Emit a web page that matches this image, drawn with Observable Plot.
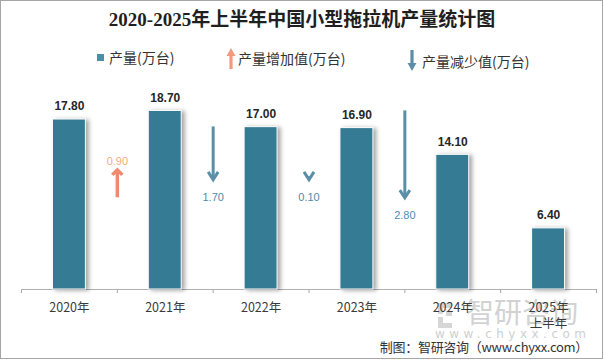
<!DOCTYPE html>
<html><head><meta charset="utf-8">
<script src="https://cdn.jsdelivr.net/npm/d3@7"></script>
<script src="https://cdn.jsdelivr.net/npm/@observablehq/plot@0.6"></script>
<style>
html,body{margin:0;padding:0;background:#fff;}
#wrap{position:relative;width:604px;height:361px;overflow:hidden;font-family:"Noto Sans CJK SC","Noto Sans",sans-serif;background:#fff;}
#frame{position:absolute;left:0;top:0;width:601px;height:357px;border:1px solid #a6a6a6;}
#title{position:absolute;left:0;top:9px;width:604px;text-align:center;font:bold 19px/22px "Liberation Serif","Noto Sans CJK SC",serif;color:#1f1f1f;}
.leg{position:absolute;font-size:14px;line-height:18px;color:#333;white-space:nowrap;}
#wm1{position:absolute;left:466px;top:294px;font-size:28px;line-height:34px;color:#d2d2d2;}
#caption{position:absolute;right:16px;top:339px;font-size:13px;line-height:16px;color:#333;white-space:nowrap;letter-spacing:-0.3px;}
#chart{position:absolute;left:0;top:0;}
</style></head>
<body>
<div id="wrap">
  <div id="frame"></div>
  <div id="wm1">智研咨询</div>
  <svg style="position:absolute;left:434px;top:300px" width="160" height="42">
    <path d="M4,3 h14 v5 h-9 v6 h-5 z M4,17 h5 v6 h9 v5 h-14 z M12,11 h6 v5 h-6 z" fill="#d6d6d6"/>
    <text x="1" y="38" font-family="DejaVu Sans, sans-serif" font-size="12" fill="#cfcfcf" textLength="151" lengthAdjust="spacing">www.chyxx.com</text>
  </svg>
  <div id="title">2020-2025年上半年中国小型拖拉机产量统计图</div>
  <svg style="position:absolute;left:97px;top:54px" width="7" height="7"><rect width="7" height="7" fill="#4a8fa8"/></svg>
  <div class="leg" style="left:109px;top:48px">产量(万台)</div>
  <svg style="position:absolute;left:226px;top:48px" width="10" height="21"><path d="M5,0 L9.5,8 L6.6,8 L6.6,21 L3.4,21 L3.4,8 L0.5,8 Z" fill="#f19a80"/></svg>
  <div class="leg" style="left:238px;top:49px">产量增加值(万台)</div>
  <svg style="position:absolute;left:407px;top:50px" width="10" height="21"><path d="M5,21 L9.5,13 L6.6,13 L6.6,0 L3.4,0 L3.4,13 L0.5,13 Z" fill="#5b8fa8"/></svg>
  <div class="leg" style="left:422px;top:52px">产量减少值(万台)</div>
  <div id="chart"></div>
  <div id="caption">制图：智研咨询（www.chyxx.com）</div>
</div>
<script>
// ---- data ----
const categories = ["2020年", "2021年", "2022年", "2023年", "2024年", "2025年\n上半年"];
const output = [17.80, 18.70, 17.00, 16.90, 14.10, 6.40];
const changes = [0.90, -1.70, -0.10, -2.80];
const changeLabels = ["0.90", "1.70", "0.10", "2.80"];

// ---- layout constants (styling) ----
const BAR_HALF = 0.172;                    // half bar width in category units
const ARROW_FOOT = [9.6, 11.5, 11.5, 9.6]; // lower end of each arrow (value units)
const ARROW_SCALE = 3.25;                  // arrow length per unit change

const bars = output.map((v, i) => ({i, v, label: v.toFixed(2)}));
const years = categories.map((c, i) => ({i, c}));
const arrows = changes.map((c, i) => ({
  x: i + 1, c, lo: ARROW_FOOT[i], hi: ARROW_FOOT[i] + ARROW_SCALE * Math.abs(c), label: changeLabels[i]
}));
const ups = arrows.filter(d => d.c > 0);
const downs = arrows.filter(d => d.c < 0);

const chevronDown = {draw(ctx, size) {
  const r = Math.sqrt(size / Math.PI);
  ctx.moveTo(-r, -r * 1.55); ctx.lineTo(0, 0); ctx.lineTo(r, -r * 1.55);
}};
const chevronUp = {draw(ctx, size) {
  const r = Math.sqrt(size / Math.PI);
  ctx.moveTo(-r, r * 1.0); ctx.lineTo(0, 0); ctx.lineTo(r, r * 1.0);
}};

const UP = "#ef8a6f", DOWN = "#5b8fa7";

const plot = Plot.plot({
  width: 604, height: 361,
  marginTop: 98, marginBottom: 72, marginLeft: 21, marginRight: 8,
  x: {domain: [0, 6], ticks: d3.range(7), tickSize: 4, tickFormat: () => "", label: null},
  y: {domain: [0, 20], axis: null},
  style: {background: "transparent", color: "#a6a6a6", overflow: "visible"},
  marks: [
    Plot.ruleY([0], {stroke: "#b0b0b0"}),
    Plot.rectY(bars, {x1: d => d.i + 0.5 - BAR_HALF, x2: d => d.i + 0.5 + BAR_HALF, y1: 0, y2: "v",
      fill: "#367b94", stroke: "#ffffff", strokeWidth: 1}),
    Plot.text(bars, {x: d => d.i + 0.5, y: "v", text: "label", dy: -13,
      fontFamily: "Liberation Sans, Arial, sans-serif", fontWeight: "bold", fontSize: 12, fill: "#262626"}),
    // decrease arrows
    Plot.ruleX(downs, {x: "x", y1: "lo", y2: "hi", stroke: DOWN, strokeWidth: 3}),
    Plot.dot(downs, {x: "x", y: "lo", symbol: chevronDown, r: 5, fill: "none", stroke: DOWN, strokeWidth: 3,
      strokeLinejoin: "miter", strokeLinecap: "butt"}),
    Plot.text(downs, {x: "x", y: "lo", text: "label", dy: 18, fontSize: 11,
      fontFamily: "Liberation Sans, Arial, sans-serif", fill: "#4f8ab2"}),
    // increase arrows
    Plot.ruleX(ups, {x: "x", y1: "lo", y2: "hi", stroke: UP, strokeWidth: 3.5}),
    Plot.dot(ups, {x: "x", y: "hi", symbol: chevronUp, r: 5, fill: "none", stroke: UP, strokeWidth: 3.5,
      strokeLinejoin: "miter", strokeLinecap: "butt"}),
    Plot.text(ups, {x: "x", y: "hi", text: "label", dy: -8, fontSize: 11,
      fontFamily: "Liberation Sans, Arial, sans-serif", fill: "#f4ae78"}),
    // category labels
    Plot.text(years, {x: d => d.i + 0.5, y: () => 0, text: "c", dy: 11, lineAnchor: "top", lineHeight: 1.3,
      fontSize: 12.5, fill: "#3a3a3a", fontFamily: "Noto Sans CJK SC, sans-serif"})
  ]
});
document.getElementById("chart").appendChild(plot);
d3.select(plot).selectAll('g[aria-label="rect"] rect')
  .style("filter", "drop-shadow(3px 1px 2px rgba(0,0,0,0.35))");
</script>
</body></html>
